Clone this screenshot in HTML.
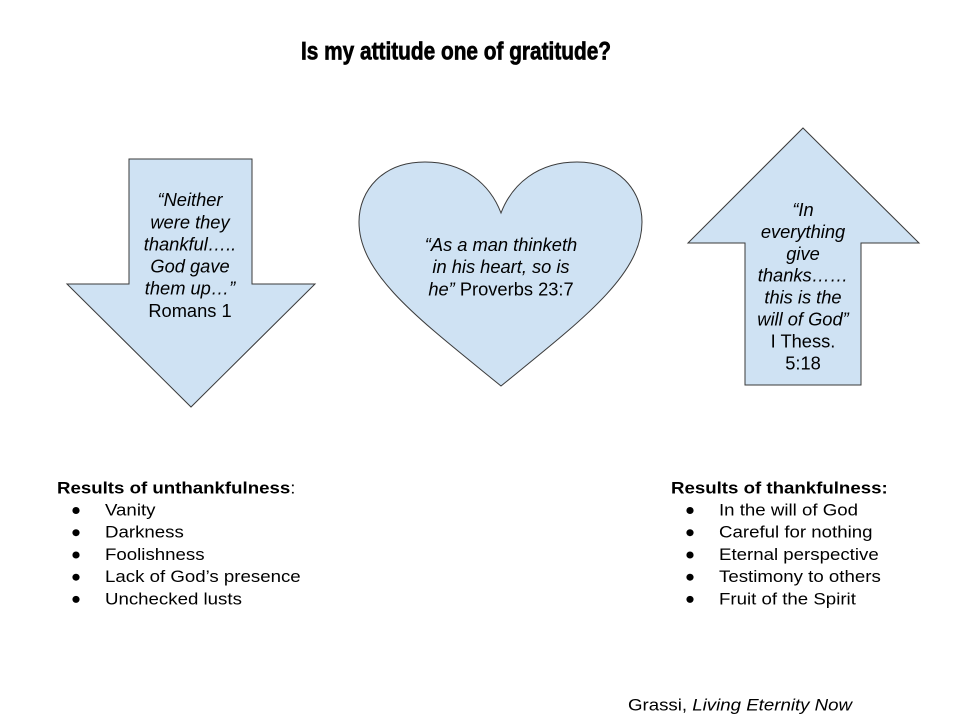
<!DOCTYPE html>
<html>
<head>
<meta charset="utf-8">
<style>
  html,body{margin:0;padding:0;background:#fff;}
  svg{display:block;}
  text{font-family:"Liberation Sans", Arial, sans-serif;fill:#000;}
  .b{font-size:18.67px;}
  .a{font-size:18.3px;}
  .i{font-style:italic;}
</style>
</head>
<body>
<svg width="960" height="720" viewBox="0 0 960 720" xmlns="http://www.w3.org/2000/svg">
  <rect width="960" height="720" fill="#fff"/>

  <!-- Title -->
  <text x="301" y="59.3" textLength="310" lengthAdjust="spacingAndGlyphs" stroke="#000" stroke-width="0.7" style="font-family:'Liberation Sans Narrow','Liberation Sans',sans-serif;font-weight:bold;font-size:25px;">Is my attitude one of gratitude?</text>

  <!-- Down arrow -->
  <polygon points="129,159 252,159 252,284 315,284 191,407 67,284 129,284" fill="#cfe2f3" stroke="#3a3a3a" stroke-width="1"/>
  <g class="a" text-anchor="middle">
    <text class="i" x="190" y="206.2">“Neither</text>
    <text class="i" x="190" y="228.4">were they</text>
    <text class="i" x="190" y="250.5">thankful…..</text>
    <text class="i" x="190" y="272.6">God gave</text>
    <text class="i" x="190" y="294.7">them up…”</text>
    <text x="190" y="316.8">Romans 1</text>
  </g>

  <!-- Heart -->
  <path d="M501,213 C490,184 464,162 425,162 C383,162 359,190 359,222 C359,275 420,320 501,386 C582,320 642,275 642,222 C642,190 618,162 577,162 C538,162 512,184 501,213 Z" fill="#cfe2f3" stroke="#3a3a3a" stroke-width="1"/>
  <g class="a" text-anchor="middle">
    <text class="i" x="501" y="251">“As a man thinketh</text>
    <text class="i" x="501" y="273.2">in his heart, so is</text>
    <text x="501" y="295.4"><tspan font-style="italic">he”</tspan> Proverbs 23:7</text>
  </g>

  <!-- Up arrow -->
  <polygon points="803,128 919,243 861,243 861,385 745,385 745,243 688,243" fill="#cfe2f3" stroke="#3a3a3a" stroke-width="1"/>
  <g class="a" text-anchor="middle">
    <text class="i" x="803" y="216">“In</text>
    <text class="i" x="803" y="237.9">everything</text>
    <text class="i" x="803" y="259.8">give</text>
    <text class="i" x="803" y="281.7">thanks……</text>
    <text class="i" x="803" y="303.6">this is the</text>
    <text class="i" x="803" y="325.5">will of God”</text>
    <text x="803" y="347.4">I Thess.</text>
    <text x="803" y="369.3">5:18</text>
  </g>

  <!-- Left list -->
  <g class="b">
    <text transform="translate(57,493.3) scale(1,0.9)"><tspan font-weight="bold">Results of unthankfulness</tspan>:</text>
    <text transform="translate(105,515.5) scale(1,0.9)">Vanity</text>
    <text transform="translate(105,537.7) scale(1,0.9)">Darkness</text>
    <text transform="translate(105,560) scale(1,0.9)">Foolishness</text>
    <text transform="translate(105,582.2) scale(1,0.9)">Lack of God’s presence</text>
    <text transform="translate(105,604.4) scale(1,0.9)">Unchecked lusts</text>
  </g>
  <g fill="#000">
    <ellipse cx="76" cy="510.5" rx="3.6" ry="3.5"/>
    <ellipse cx="76" cy="532.7" rx="3.6" ry="3.5"/>
    <ellipse cx="76" cy="555" rx="3.6" ry="3.5"/>
    <ellipse cx="76" cy="577.2" rx="3.6" ry="3.5"/>
    <ellipse cx="76" cy="599.4" rx="3.6" ry="3.5"/>
  </g>

  <!-- Right list -->
  <g class="b">
    <text font-weight="bold" transform="translate(671,493.3) scale(1,0.9)">Results of thankfulness:</text>
    <text transform="translate(719,515.5) scale(1,0.9)">In the will of God</text>
    <text transform="translate(719,537.7) scale(1,0.9)">Careful for nothing</text>
    <text transform="translate(719,560) scale(1,0.9)">Eternal perspective</text>
    <text transform="translate(719,582.2) scale(1,0.9)">Testimony to others</text>
    <text transform="translate(719,604.4) scale(1,0.9)">Fruit of the Spirit</text>
  </g>
  <g fill="#000">
    <ellipse cx="690" cy="510.5" rx="3.6" ry="3.5"/>
    <ellipse cx="690" cy="532.7" rx="3.6" ry="3.5"/>
    <ellipse cx="690" cy="555" rx="3.6" ry="3.5"/>
    <ellipse cx="690" cy="577.2" rx="3.6" ry="3.5"/>
    <ellipse cx="690" cy="599.4" rx="3.6" ry="3.5"/>
  </g>

  <!-- Footer -->
  <text class="b" transform="translate(628,710.5) scale(1,0.9)">Grassi, <tspan font-style="italic">Living Eternity Now</tspan></text>
</svg>
</body>
</html>
